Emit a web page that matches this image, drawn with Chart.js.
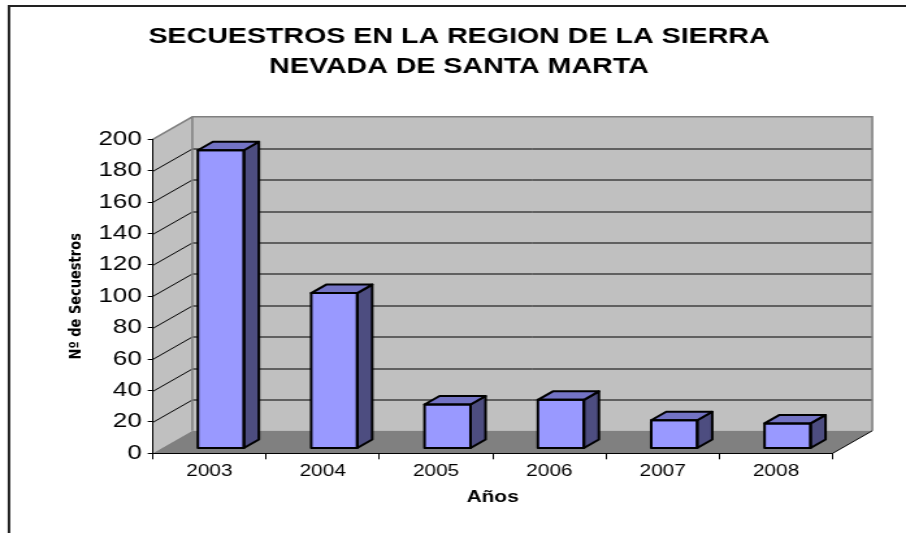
<!DOCTYPE html>
<html>
<head>
<meta charset="utf-8">
<script src="https://cdn.jsdelivr.net/npm/chart.js@4"></script>
<style>
  html, body { margin: 0; padding: 0; background: #fff; }
</style>
</head>
<body>
<!-- the original picture is an old spreadsheet chart stretched sideways -->
<canvas id="myChart" width="697" height="533" style="width:906px;height:533px"></canvas>
<script>
// data
var years = ['2003', '2004', '2005', '2006', '2007', '2008']
var secuestros = [190, 99, 28, 31, 18, 16]
var yMin = 0
var yMax = 200
var yStep = 20
var titleLines = ['SECUESTROS EN LA REGION DE LA SIERRA', 'NEVADA DE SANTA MARTA']

// horizontal stretch of the canvas (906 px shown / 697 px drawn)
var K = 906 / 697
function hx(v) { return v / K }

// 3d look: depth of the walls, where bars sit inside it, bar depth
var DX = hx(39.6), DY = -22.5
var BX = hx(11.5), BY = -4.8
var SX = hx(15), SY = -8.5

var FONT = "'Liberation Sans', Arial, sans-serif"

var walls3d = {
  id: 'walls3d',
  beforeDraw: function (chart) {
    var ctx = chart.ctx
    var a = chart.chartArea
    var y = chart.scales.y
    ctx.save()

    // outer frame (top + left)
    ctx.strokeStyle = '#222'
    ctx.lineWidth = 2
    ctx.beginPath()
    ctx.moveTo(hx(9), 533)
    ctx.lineTo(hx(9), 6)
    ctx.lineTo(chart.width, 6)
    ctx.stroke()

    // back wall
    ctx.fillStyle = '#c0c0c0'
    ctx.fillRect(a.left + DX, a.top + DY, a.right - a.left, a.bottom - a.top)
    // side wall
    ctx.beginPath()
    ctx.moveTo(a.left, a.top)
    ctx.lineTo(a.left + DX, a.top + DY)
    ctx.lineTo(a.left + DX, a.bottom + DY)
    ctx.lineTo(a.left, a.bottom)
    ctx.closePath()
    ctx.fill()
    // floor
    ctx.fillStyle = '#808080'
    ctx.beginPath()
    ctx.moveTo(a.left, a.bottom)
    ctx.lineTo(a.right, a.bottom)
    ctx.lineTo(a.right + DX, a.bottom + DY)
    ctx.lineTo(a.left + DX, a.bottom + DY)
    ctx.closePath()
    ctx.fill()

    // gridlines on side and back wall
    ctx.strokeStyle = '#000'
    ctx.lineWidth = 1
    for (var v = yMin + yStep; v < yMax; v += yStep) {
      var py = Math.round(y.getPixelForValue(v)) + 0.5
      ctx.beginPath()
      ctx.moveTo(a.left, py)
      ctx.lineTo(a.left + DX, py + DY)
      ctx.lineTo(a.right + DX, py + DY)
      ctx.stroke()
    }

    // wall outlines
    ctx.strokeStyle = '#808080'
    ctx.lineWidth = 1.5
    ctx.beginPath()
    ctx.moveTo(a.left, a.top)
    ctx.lineTo(a.left + DX, a.top + DY)
    ctx.lineTo(a.right + DX, a.top + DY)
    ctx.lineTo(a.right + DX, a.bottom + DY)
    ctx.moveTo(a.left + DX, a.top + DY)
    ctx.lineTo(a.left + DX, a.bottom + DY)
    ctx.stroke()

    // right floor edge
    ctx.strokeStyle = '#000'
    ctx.lineWidth = 1
    ctx.beginPath()
    ctx.moveTo(a.right, a.bottom)
    ctx.lineTo(a.right + DX, a.bottom + DY)
    ctx.stroke()

    // title
    ctx.fillStyle = '#000'
    ctx.font = 'bold 22px ' + FONT
    ctx.textAlign = 'center'
    ctx.textBaseline = 'middle'
    ctx.fillText(titleLines[0], hx(459), 37)
    ctx.fillText(titleLines[1], hx(459), 67)
    ctx.restore()
  }
}

var bars3d = {
  id: 'bars3d',
  beforeDatasetsDraw: function (chart) {
    chart.ctx.save()
    chart.ctx.translate(BX, BY)
  },
  afterDatasetsDraw: function (chart) {
    var ctx = chart.ctx
    ctx.lineWidth = 2
    ctx.strokeStyle = '#000'
    ctx.lineJoin = 'round'
    chart.getDatasetMeta(0).data.forEach(function (bar) {
      var p = bar.getProps(['x', 'y', 'base', 'width'], true)
      var l = p.x - p.width / 2
      var r = p.x + p.width / 2
      // side
      ctx.fillStyle = '#4d4d80'
      ctx.beginPath()
      ctx.moveTo(r, p.base)
      ctx.lineTo(r + SX, p.base + SY)
      ctx.lineTo(r + SX, p.y + SY)
      ctx.lineTo(r, p.y)
      ctx.closePath()
      ctx.fill()
      ctx.stroke()
      // top
      ctx.fillStyle = '#7373c4'
      ctx.beginPath()
      ctx.moveTo(l, p.y)
      ctx.lineTo(l + SX, p.y + SY)
      ctx.lineTo(r + SX, p.y + SY)
      ctx.lineTo(r, p.y)
      ctx.closePath()
      ctx.fill()
      ctx.stroke()
      // front outline
      ctx.strokeRect(l, p.y, p.width, p.base - p.y)
    })
    ctx.restore()
  }
}

var ctx = document.getElementById('myChart').getContext('2d')
var chart = new Chart(ctx, {
  type: 'bar',
  data: {
    labels: years,
    datasets: [{
      label: 'Secuestros',
      data: secuestros,
      backgroundColor: '#9999ff',
      borderWidth: 0,
      categoryPercentage: 1,
      barPercentage: 0.406
    }]
  },
  options: {
    responsive: false,
    animation: false,
    layout: { padding: { left: 0, right: hx(73.3), top: 139.3, bottom: 0 } },
    plugins: {
      legend: { display: false },
      tooltip: { enabled: false },
      title: { display: false }
    },
    scales: {
      x: {
        grid: { color: 'rgba(0,0,0,0)', tickColor: '#000', tickLength: 6, offset: true },
        border: { display: true, color: '#000', width: 1 },
        ticks: { color: '#000', padding: 3, font: { family: FONT, size: 16 } },
        title: {
          display: true,
          text: 'Años',
          color: '#000',
          font: { family: FONT, size: 16, weight: 'bold', lineHeight: 1.2 },
          padding: { top: 0, bottom: 25.5 }
        },
        afterFit: function (scale) { scale.height = 79.7 }
      },
      y: {
        min: yMin,
        max: yMax,
        grid: { color: 'rgba(0,0,0,0)', tickColor: '#000', tickLength: hx(5) },
        border: { display: true, color: '#000', width: 1 },
        ticks: { stepSize: yStep, color: '#000', padding: hx(6), font: { family: FONT, size: 20 } },
        title: {
          display: true,
          text: 'Nº de Secuestros',
          color: '#000',
          font: { family: "'DejaVu Sans', sans-serif", size: 13, weight: 'bold', lineHeight: 1.2 },
          padding: { top: hx(76) - 7.8, bottom: 0 }
        },
        afterFit: function (scale) { scale.width = hx(152.7) }
      }
    }
  },
  plugins: [walls3d, bars3d]
})
</script>
</body>
</html>
